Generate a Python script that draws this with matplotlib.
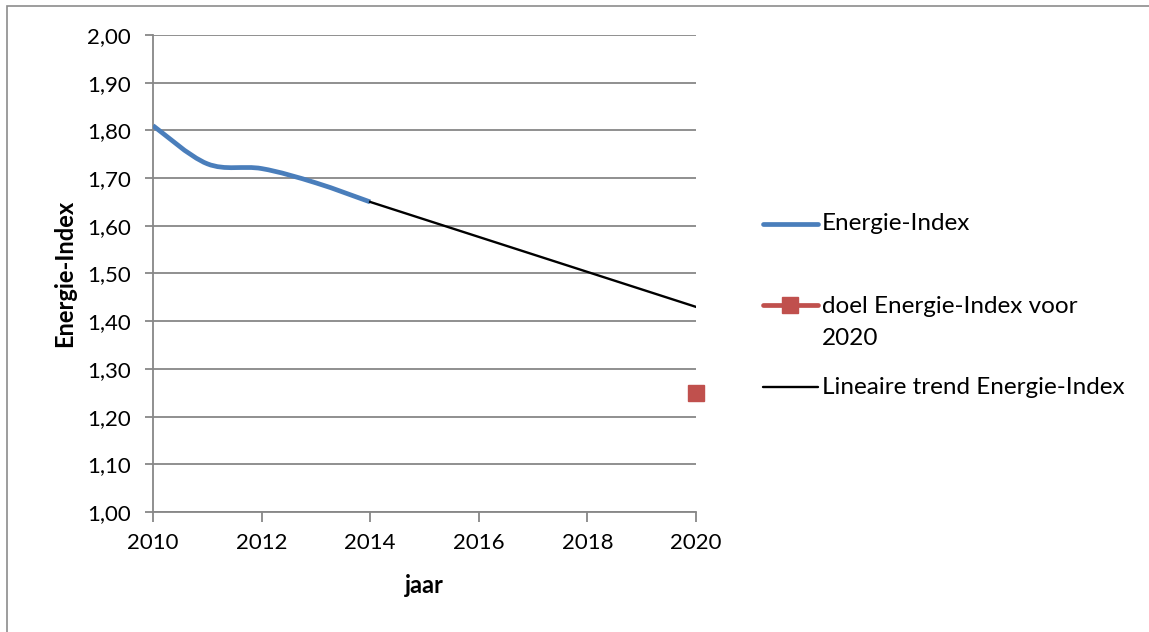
import numpy as np
import matplotlib
matplotlib.use("Agg")
import matplotlib.pyplot as plt
from matplotlib.path import Path
from matplotlib.patches import PathPatch, Rectangle
from matplotlib.lines import Line2D
from matplotlib.ticker import FuncFormatter

plt.rcParams['font.family'] = ['Lato', 'DejaVu Sans']

# data
years = [2010, 2011, 2012, 2013, 2014]
index_values = [1.81, 1.73, 1.72, 1.69, 1.65]
trend_years = [2014, 2020]
trend_values = [1.65, 1.43]
goal_year = [2020]
goal_value = [1.25]

legend_labels = ["Energie-Index", "doel Energie-Index voor\n2020", "Lineaire trend Energie-Index"]

blue = '#4A7EBB'
red = '#C0504D'
grid_gray = '#878787'

W, H = 1149, 632
fig = plt.figure(figsize=(W / 100, H / 100), dpi=100)
ax = fig.add_axes([153 / W, 1 - 512 / H, (696 - 153) / W, (512 - 35) / H])

# outer frame (only top/left visible in the original)
fig.patches.append(Rectangle((7 / W, -0.1), 1.2, 1 - 6 / H + 0.1, transform=fig.transFigure,
                             fill=False, edgecolor='#8c8c8c', linewidth=1.2))

# smoothed line like Excel (bezier through the data points)
x = np.array(years, dtype=float)
y = np.array(index_values)
verts = [(x[0], y[0])]
codes = [Path.MOVETO]
n = len(x)
for i in range(n - 1):
    x0, y0 = (x[i - 1], y[i - 1]) if i > 0 else (x[i], y[i])
    x3, y3 = (x[i + 2], y[i + 2]) if i + 2 < n else (x[i + 1], y[i + 1])
    c1 = (x[i] + (x[i + 1] - x0) / 6, y[i] + (y[i + 1] - y0) / 6)
    c2 = (x[i + 1] - (x3 - x[i]) / 6, y[i + 1] - (y3 - y[i]) / 6)
    verts += [c1, c2, (x[i + 1], y[i + 1])]
    codes += [Path.CURVE4] * 3
ax.add_patch(PathPatch(Path(verts, codes), facecolor='none', edgecolor=blue,
                       linewidth=3.4, capstyle='butt', zorder=3))

ax.plot(trend_years, trend_values, color='black', linewidth=1.7, zorder=4)
ax.plot(goal_year, goal_value, linestyle='none', marker='s', markersize=11,
        color=red, zorder=5, clip_on=False)

ax.set_xlim(2010, 2020)
ax.set_ylim(1.0, 2.0)
ax.set_xticks(range(2010, 2021, 2))
ax.set_yticks(np.arange(1.0, 2.01, 0.1))
ax.yaxis.set_major_formatter(FuncFormatter(lambda v, p: f"{v:.2f}".replace('.', ',')))
ax.grid(axis='y', color=grid_gray, linewidth=1.3)
ax.set_axisbelow(True)
for s in ['top', 'right']:
    ax.spines[s].set_visible(False)
for s in ['left', 'bottom']:
    ax.spines[s].set_color(grid_gray)
    ax.spines[s].set_linewidth(1.3)
ax.tick_params(axis='y', length=6, width=1.3, color=grid_gray, labelsize=16, pad=10)
ax.tick_params(axis='x', length=7, width=1.3, color=grid_gray, labelsize=16, pad=8)

ax.set_ylabel("Energie-Index", fontsize=17, fontweight='bold', labelpad=8)
ax.set_xlabel("jaar", fontsize=17, fontweight='bold', labelpad=15)

# legend drawn in figure pixels
def fx(px):
    return px / W

def fy(py):
    return 1 - py / H

handles = [
    dict(y=224, color=blue, lw=3.4, marker=None),
    dict(y=305, color=red, lw=3.4, marker='s'),
    dict(y=387, color='black', lw=1.7, marker=None),
]
for h, lab in zip(handles, legend_labels):
    fig.add_artist(Line2D([fx(763), fx(818)], [fy(h['y'])] * 2, transform=fig.transFigure,
                          color=h['color'], linewidth=h['lw'], solid_capstyle='round'))
    if h['marker']:
        fig.add_artist(Line2D([fx(790)], [fy(h['y'])], transform=fig.transFigure,
                              marker='s', markersize=12, color=h['color'], linestyle='none'))
    if '\n' in lab:
        fig.text(fx(822), fy(h['y'] - 9), lab, fontsize=17.5, va='top', ha='left',
                 linespacing=1.65)
    else:
        fig.text(fx(822), fy(h['y']), lab, fontsize=17.5, va='center', ha='left')

fig.savefig("out.png", dpi=100)
